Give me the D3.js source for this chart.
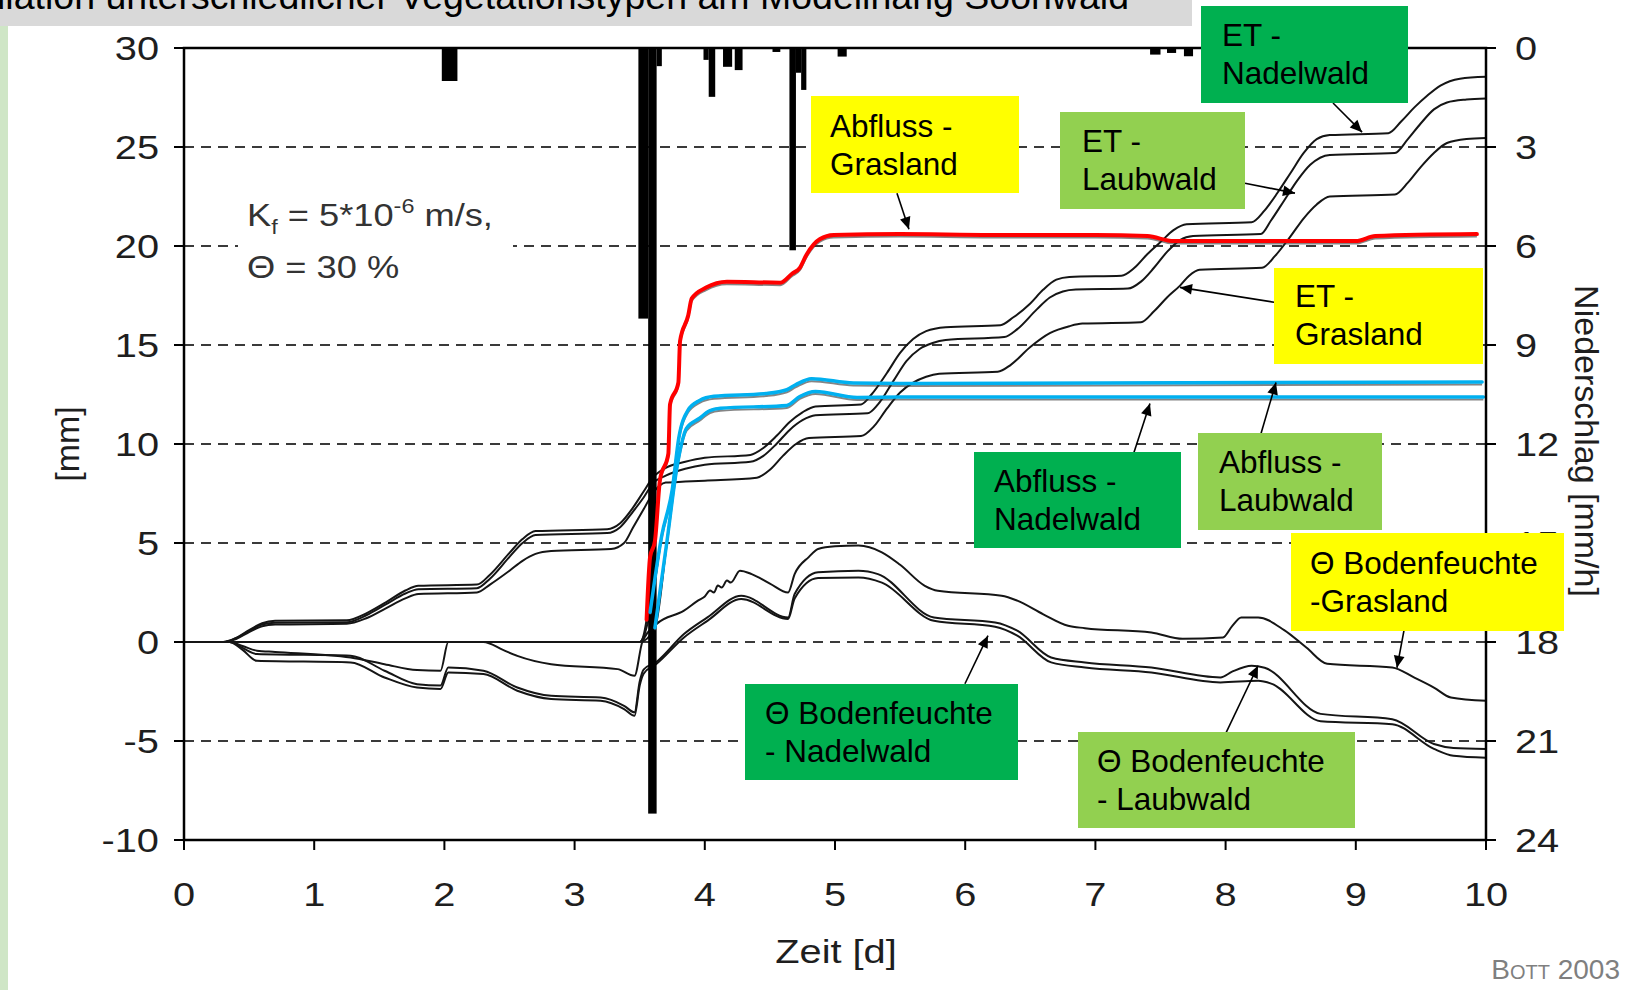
<!DOCTYPE html>
<html><head><meta charset="utf-8">
<script src="https://cdn.jsdelivr.net/npm/d3@7"></script>
<style>
html,body{margin:0;padding:0;background:#fff;overflow:hidden}
svg{display:block;font-family:"Liberation Sans",Arial,sans-serif}
</style></head><body>
<svg id="chart" width="1639" height="990"></svg>
<script>
// ---------- DATA ----------
const titleText = "Simulation unterschiedlicher Vegetationstypen am Modellhang Soonwald";
const xTicks = [0,1,2,3,4,5,6,7,8,9,10];
const yTicksLeft = [-10,-5,0,5,10,15,20,25,30];
const yTicksRight = [0,3,6,9,12,15,18,21,24];
const gridValues = [-5,0,5,10,15,20,25];

// Evapotranspiration [mm] (day, value)
const etNadelwald = [[0,0],[0.3,0],[0.4,0.2],[0.5,0.6],[0.6,0.95],[0.7,1.07],[1.25,1.1],[1.4,1.45],[1.55,2.0],[1.7,2.6],[1.8,2.84],[2.25,2.9],[2.35,3.4],[2.5,4.5],[2.6,5.2],[2.7,5.6],[3.25,5.7],[3.35,6.0],[3.45,6.8],[3.53,7.6],[3.6,8.3],[3.7,8.8],[3.85,9.1],[4.0,9.3],[4.35,9.45],[4.45,9.8],[4.55,10.4],[4.65,11.1],[4.75,11.6],[4.85,11.9],[5.2,12.0],[5.28,12.5],[5.4,13.6],[5.5,14.6],[5.6,15.3],[5.7,15.7],[5.85,15.9],[6.27,16.0],[6.37,16.4],[6.5,17.1],[6.6,17.8],[6.7,18.3],[6.8,18.44],[7.2,18.5],[7.3,18.9],[7.4,19.6],[7.5,20.2],[7.6,20.8],[7.7,21.1],[8.2,21.2],[8.3,21.8],[8.4,22.7],[8.5,23.7],[8.6,24.7],[8.7,25.4],[8.8,25.6],[9.25,25.7],[9.35,26.3],[9.45,27.0],[9.55,27.6],[9.65,28.1],[9.8,28.45],[10,28.55]];
const etLaubwald = [[0,0],[0.3,0],[0.4,0.2],[0.5,0.55],[0.6,0.88],[0.7,0.97],[1.25,1.0],[1.4,1.35],[1.55,1.9],[1.7,2.45],[1.8,2.67],[2.25,2.72],[2.35,3.2],[2.5,4.3],[2.6,5.0],[2.7,5.4],[3.25,5.5],[3.35,5.8],[3.45,6.6],[3.53,7.3],[3.6,8.0],[3.7,8.4],[3.85,8.75],[4.0,8.95],[4.35,9.1],[4.45,9.4],[4.55,10.0],[4.65,10.7],[4.75,11.2],[4.85,11.45],[5.25,11.55],[5.33,12.0],[5.45,13.2],[5.55,14.2],[5.65,14.8],[5.75,15.1],[5.85,15.25],[6.3,15.4],[6.4,15.8],[6.55,16.8],[6.65,17.4],[6.75,17.7],[6.85,17.8],[7.25,17.85],[7.35,18.2],[7.45,18.9],[7.55,19.7],[7.65,20.3],[7.75,20.5],[8.27,20.6],[8.35,21.3],[8.45,22.3],[8.55,23.3],[8.65,24.1],[8.8,24.6],[9.3,24.7],[9.4,25.4],[9.5,26.2],[9.6,26.9],[9.7,27.25],[9.85,27.4],[10,27.45]];
const etGrasland = [[0,0],[0.3,0],[0.4,0.15],[0.5,0.5],[0.6,0.8],[0.7,0.88],[1.25,0.92],[1.4,1.2],[1.55,1.7],[1.7,2.2],[1.8,2.42],[2.25,2.5],[2.35,2.9],[2.5,3.6],[2.6,4.1],[2.7,4.45],[2.82,4.6],[3.28,4.7],[3.38,5.0],[3.45,5.8],[3.53,6.7],[3.6,7.5],[3.7,8.05],[3.85,8.1],[4.0,8.15],[4.4,8.3],[4.5,8.7],[4.6,9.4],[4.7,10.0],[4.8,10.3],[5.2,10.4],[5.3,10.9],[5.4,11.8],[5.5,12.6],[5.6,13.1],[5.7,13.4],[5.8,13.55],[6.25,13.65],[6.35,14.0],[6.5,14.9],[6.65,15.6],[6.8,15.95],[6.9,16.08],[7.35,16.15],[7.45,16.7],[7.55,17.4],[7.65,18.0],[7.72,18.5],[7.8,18.8],[8.28,18.9],[8.38,19.5],[8.5,20.5],[8.6,21.4],[8.7,22.1],[8.8,22.5],[9.3,22.6],[9.4,23.2],[9.5,24.0],[9.6,24.7],[9.7,25.2],[9.85,25.4],[10,25.45]];

// Abfluss [mm]
const abflussGrasland = [[0,0],[3.5,0],[3.553,1.13],[3.58,4.3],[3.617,5.1],[3.656,8.2],[3.72,9.5],[3.733,12.0],[3.797,13.1],[3.81,15.2],[3.873,16.5],[3.9,17.35],[4.01,17.9],[4.17,18.2],[4.58,18.15],[4.67,18.6],[4.73,18.9],[4.78,19.55],[4.885,20.35],[4.99,20.55],[5.5,20.6],[6.2,20.55],[7.0,20.55],[7.4,20.5],[7.6,20.25],[9.0,20.25],[9.15,20.5],[9.93,20.6]];
const abflussLaubwald = [[0,0],[3.5,0],[3.58,1.5],[3.67,5.4],[3.75,7.7],[3.8,10.3],[3.87,11.7],[3.96,12.2],[4.07,12.41],[4.47,12.55],[4.63,12.74],[4.7,13.0],[4.82,13.3],[5.14,13.08],[5.5,13.06],[9.97,13.13]];
const abflussNadelwald = [[0,0],[3.5,0],[3.617,0.72],[3.71,5.12],[3.79,8.98],[3.86,10.8],[3.96,11.3],[4.04,11.69],[4.12,11.8],[4.63,11.95],[4.73,12.4],[4.85,12.65],[5.17,12.35],[5.5,12.37],[9.98,12.37]];

// Bodenfeuchte Theta [mm]
const thetaGrasland = [[0,0],[0.35,0],[0.45,-0.2],[0.56,-0.44],[0.7,-0.5],[1.28,-0.78],[1.54,-1.12],[1.79,-1.42],[1.97,-1.45],[2.03,0],[2.3,0],[2.45,-0.4],[2.56,-0.7],[2.82,-1.12],[3.33,-1.37],[3.46,-1.71],[3.52,0],[3.63,0.91],[3.84,1.58],[3.95,2.1],[4.0,2.3],[4.04,2.6],[4.07,2.5],[4.1,2.85],[4.13,2.75],[4.17,3.1],[4.2,3.0],[4.27,3.6],[4.36,3.43],[4.5,2.95],[4.64,2.5],[4.69,3.43],[4.8,4.3],[4.87,4.7],[5.0,4.83],[5.18,4.87],[5.36,4.53],[5.5,3.9],[5.69,2.84],[5.79,2.59],[6.28,2.34],[6.4,2.09],[6.6,1.4],[6.79,0.82],[6.92,0.7],[7.43,0.48],[7.67,0.16],[7.98,0.23],[8.05,0.8],[8.12,1.24],[8.25,1.24],[8.45,0.6],[8.62,-0.28],[8.78,-1.1],[9.28,-1.29],[9.45,-1.8],[9.6,-2.3],[9.73,-2.8],[10,-2.97]];
const thetaLaubwald = [[0,0],[0.35,0],[0.45,-0.3],[0.56,-0.61],[1.28,-0.69],[1.54,-1.45],[1.79,-2.13],[1.97,-2.2],[2.03,-1.29],[2.3,-1.45],[2.56,-2.3],[2.82,-2.72],[3.2,-2.8],[3.38,-3.22],[3.46,-3.55],[3.5,-2.0],[3.53,-1.4],[3.63,-1.0],[3.84,0.4],[4.02,1.24],[4.28,2.34],[4.64,1.24],[4.69,2.42],[4.87,3.52],[5.18,3.6],[5.33,3.43],[5.76,1.24],[6.23,0.99],[6.4,0.57],[6.66,-0.78],[6.92,-1.03],[7.43,-1.29],[7.96,-1.79],[8.05,-1.5],[8.2,-1.2],[8.3,-1.3],[8.73,-3.63],[9.28,-3.9],[9.6,-5.15],[9.75,-5.35],[10,-5.4]];
const thetaNadelwald = [[0,0],[0.35,0],[0.45,-0.4],[0.56,-0.95],[1.28,-1.03],[1.54,-1.79],[1.79,-2.3],[1.97,-2.37],[2.03,-1.54],[2.3,-1.62],[2.56,-2.46],[2.82,-2.88],[3.2,-2.97],[3.38,-3.39],[3.46,-3.73],[3.5,-2.2],[3.53,-1.6],[3.63,-1.1],[3.84,0.23],[4.02,1.07],[4.28,2.17],[4.64,1.16],[4.69,2.2],[4.87,3.23],[5.18,3.26],[5.36,3.0],[5.76,1.07],[6.23,0.77],[6.4,0.32],[6.66,-1.03],[6.92,-1.29],[7.43,-1.54],[7.96,-2.04],[8.25,-1.96],[8.35,-2.1],[8.73,-4.0],[9.28,-4.15],[9.6,-5.4],[9.75,-5.75],[10,-5.85]];

// Niederschlag [mm/h] : [start day, end day, intensity]
const precipitation = [[1.98,2.10,1.0],[3.49,3.565,8.2],[3.565,3.63,23.2],[3.63,3.67,0.55],[3.99,4.03,0.36],[4.03,4.08,1.48],[4.14,4.21,0.57],[4.23,4.29,0.67],[4.52,4.58,0.12],[4.65,4.70,6.13],[4.70,4.74,0.75],[4.74,4.78,1.27],[5.02,5.09,0.26],[7.42,7.5,0.2],[7.55,7.62,0.15],[7.68,7.75,0.25]];

// annotation arrows in data units: [xFrom, yFrom, xTo, yTo]
const arrowsData = [[8.825,27.22,9.048,25.75],[8.149,23.17,8.533,22.67],[8.372,17.16,7.65,17.91],[5.476,22.67,5.568,20.85],[7.296,9.57,7.419,12.05],[8.272,10.53,8.387,13.11],[9.37,0.57,9.316,-1.30],[5.998,-2.11,6.175,0.32],[8.003,-4.59,8.249,-1.2]];

const boxLabels = [["ET -","Nadelwald"],["ET -","Laubwald"],["ET -","Grasland"],["Abfluss -","Grasland"],["Abfluss -","Nadelwald"],["Abfluss -","Laubwald"],["\u0398 Bodenfeuchte","-Grasland"],["\u0398 Bodenfeuchte","- Nadelwald"],["\u0398 Bodenfeuchte","- Laubwald"]];

// ---------- LAYOUT ----------
const W=1639,H=990;
const P = {left:184,right:1486,top:48,bottom:840};
const DK='#00b050', LG='#92d050', YE='#ffff00';
const boxLayout = [
  {x:1201,y:6,w:207,h:97,fill:DK,tx:1222,ty:46},
  {x:1060,y:112,w:185,h:97,fill:LG,tx:1082,ty:152},
  {x:1274,y:268,w:209,h:96,fill:YE,tx:1295,ty:307},
  {x:811,y:96,w:208,h:97,fill:YE,tx:830,ty:137},
  {x:974,y:452,w:207,h:96,fill:DK,tx:994,ty:492},
  {x:1198,y:433,w:184,h:97,fill:LG,tx:1219,ty:473},
  {x:1291,y:533,w:273,h:98,fill:YE,tx:1310,ty:574},
  {x:745,y:684,w:273,h:96,fill:DK,tx:765,ty:724},
  {x:1078,y:732,w:277,h:96,fill:LG,tx:1097,ty:772}
];
const SX = 'scale(1.17,1)';

const x = d3.scaleLinear().domain([0,10]).range([P.left,P.right]);
const y = d3.scaleLinear().domain([-10,30]).range([P.bottom,P.top]);
const yR = d3.scaleLinear().domain([0,24]).range([P.top,P.bottom]);
const svg = d3.select('#chart');

svg.append('rect').attr('width',W).attr('height',H).attr('fill','#fff');

// title banner
svg.append('rect').attr('x',0).attr('y',0).attr('width',1192).attr('height',26).attr('fill','#d9d9d9');
svg.append('text').attr('x',1129).attr('y',9).attr('text-anchor','end').attr('font-size',37.5).attr('fill','#000').text(titleText);
svg.append('rect').attr('x',0).attr('y',26).attr('width',8).attr('height',H-26).attr('fill','#cfe6c6');

// gridlines
svg.append('g').selectAll('line').data(gridValues).join('line')
  .attr('x1',P.left).attr('x2',P.right).attr('y1',d=>y(d)).attr('y2',d=>y(d))
  .attr('stroke','#3a3a3a').attr('stroke-width',2).attr('stroke-dasharray','10,7');

// white background behind parameter text
svg.append('rect').attr('x',238).attr('y',190).attr('width',275).attr('height',100).attr('fill','#fff');

const line = d3.line().x(d=>x(d[0])).y(d=>y(d[1])).curve(d3.curveMonotoneX);
const blackSeries = [etNadelwald,etLaubwald,etGrasland,thetaGrasland,thetaLaubwald,thetaNadelwald,abflussGrasland,abflussLaubwald,abflussNadelwald];
svg.append('g').selectAll('path').data(blackSeries).join('path')
  .attr('d',line).attr('fill','none').attr('stroke','#151515').attr('stroke-width',2);

// precipitation bars (hanging from top, right axis)
svg.append('g').selectAll('rect').data(precipitation).join('rect')
  .attr('x',d=>x(d[0])).attr('width',d=>x(d[1])-x(d[0]))
  .attr('y',yR(0)).attr('height',d=>yR(d[2])-yR(0)).attr('fill','#000');

// colored runoff overlays
const colored = [[abflussGrasland,'#ff0000',4],[abflussLaubwald,'#00b0f0',3.5],[abflussNadelwald,'#00b0f0',3.5]];
colored.forEach(([data,col,w])=>{
  const part = data.filter(d=>d[0]>=3.55);
  svg.append('path').attr('d',line(part)).attr('fill','none').attr('stroke','#333').attr('stroke-width',2).attr('opacity',0.6).attr('transform','translate(0,2.5)');
  svg.append('path').attr('d',line(part)).attr('fill','none').attr('stroke',col).attr('stroke-width',w).attr('stroke-linecap','round');
});

// frame & ticks
svg.append('rect').attr('x',P.left).attr('y',P.top).attr('width',P.right-P.left).attr('height',P.bottom-P.top)
  .attr('fill','none').attr('stroke','#000').attr('stroke-width',2.5);
const tk = svg.append('g').attr('stroke','#000').attr('stroke-width',2);
tk.selectAll('.tl').data(yTicksLeft).join('line').attr('x1',P.left-10).attr('x2',P.left).attr('y1',d=>y(d)).attr('y2',d=>y(d));
tk.selectAll('.tr').data(yTicksRight).join('line').attr('x1',P.right).attr('x2',P.right+10).attr('y1',d=>yR(d)).attr('y2',d=>yR(d));
tk.selectAll('.tb').data(xTicks).join('line').attr('x1',d=>x(d)).attr('x2',d=>x(d)).attr('y1',P.bottom).attr('y2',P.bottom+10);

const lab = svg.append('g').attr('font-size',34).attr('fill','#1e1e1e');
lab.selectAll('.ll').data(yTicksLeft).join('g').attr('transform',d=>`translate(159,${y(d)}) ${SX}`)
  .append('text').attr('text-anchor','end').attr('dy','0.36em').text(d=>String(d));
lab.selectAll('.lr').data(yTicksRight).join('g').attr('transform',d=>`translate(1515,${yR(d)}) ${SX}`)
  .append('text').attr('text-anchor','start').attr('dy','0.36em').text(d=>String(d));
lab.selectAll('.lb').data(xTicks).join('g').attr('transform',d=>`translate(${x(d)},906) ${SX}`)
  .append('text').attr('text-anchor','middle').text(d=>String(d));

// axis titles
svg.append('g').attr('transform',`translate(836,963) ${SX}`).append('text').attr('text-anchor','middle').attr('font-size',34).attr('fill','#1e1e1e').text('Zeit [d]');
svg.append('text').attr('transform','translate(79,444) rotate(-90)').attr('text-anchor','middle').attr('font-size',34).attr('fill','#1e1e1e').text('[mm]');
svg.append('text').attr('transform','translate(1575,441) rotate(90)').attr('text-anchor','middle').attr('font-size',34).attr('fill','#1e1e1e').text('Niederschlag [mm/h]');

// parameter text
const pt = svg.append('g').attr('transform',`translate(247,226) ${SX}`).attr('fill','#333').attr('font-size',31);
const t1 = pt.append('text');
t1.append('tspan').text('K');
t1.append('tspan').attr('font-size',20).attr('dy',8).text('f');
t1.append('tspan').attr('dy',-8).text(' = 5*10');
t1.append('tspan').attr('font-size',20).attr('dy',-13).text('-6');
t1.append('tspan').attr('dy',13).text(' m/s,');
pt.append('text').attr('y',52).text('\u0398 = 30 %');

// BOTT 2003
svg.append('text').attr('x',1620).attr('y',979).attr('text-anchor','end').attr('font-size',28)
  .attr('fill','#7f7f7f').style('font-variant','small-caps').text('Bott 2003');

// arrows
svg.append('defs').append('marker').attr('id','arr').attr('viewBox','0 0 10 10').attr('refX',10).attr('refY',5)
  .attr('markerWidth',14).attr('markerHeight',12).attr('markerUnits','userSpaceOnUse').attr('orient','auto')
  .append('path').attr('d','M0,0.5 L10,5 L0,9.5 Z').attr('fill','#000');
svg.append('g').selectAll('line').data(arrowsData).join('line')
  .attr('x1',d=>x(d[0])).attr('y1',d=>y(d[1])).attr('x2',d=>x(d[2])).attr('y2',d=>y(d[3]))
  .attr('stroke','#000').attr('stroke-width',1.6).attr('marker-end','url(#arr)');

// annotation boxes
const bx = svg.append('g').selectAll('g').data(boxLayout).join('g');
bx.append('rect').attr('x',d=>d.x).attr('y',d=>d.y).attr('width',d=>d.w).attr('height',d=>d.h).attr('fill',d=>d.fill);
bx.each(function(d,i){
  const g = d3.select(this);
  boxLabels[i].forEach((s,j)=>{
    g.append('text').attr('x',d.tx).attr('y',d.ty+j*38.3).attr('font-size',31.5).attr('fill','#000').text(s);
  });
});
</script>
</body></html>
